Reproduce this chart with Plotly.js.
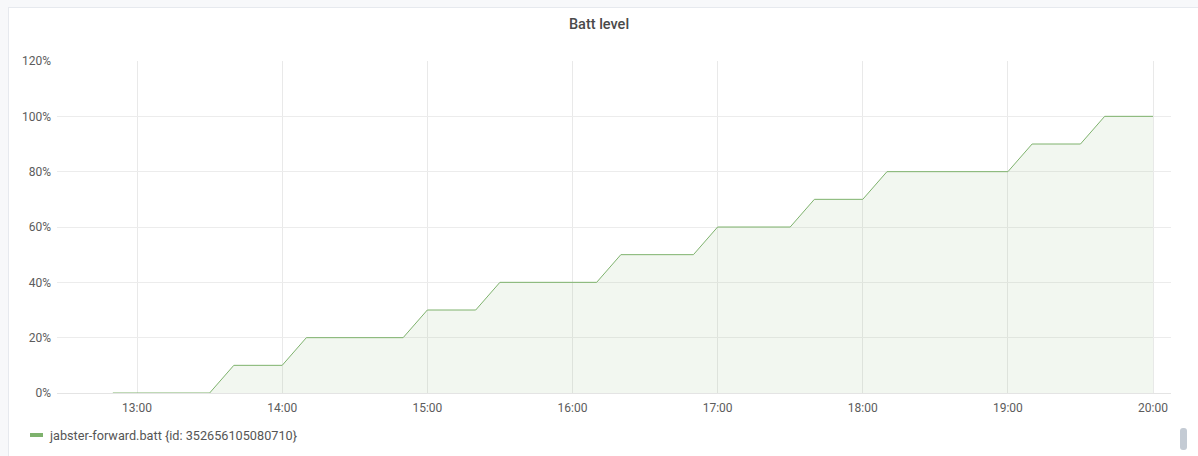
<!DOCTYPE html>
<html>
<head>
<meta charset="utf-8">
<script src="https://cdn.plot.ly/plotly-3.0.1.min.js"></script>
<style>
  html, body { margin: 0; padding: 0; width: 1198px; height: 456px; overflow: hidden; background: #f7f8fa; }
  #panel { position: absolute; left: 8px; top: 7px; width: 1200px; height: 460px; background: #fff; border: 1px solid #e6e9ee; box-sizing: border-box; }
  #chart { position: absolute; left: 0; top: 0; width: 1198px; height: 456px; }
  #scroll { position: absolute; left: 1180px; top: 428px; width: 7px; height: 22px; background: #c4cbd4; border-radius: 3px; }
</style>
</head>
<body>
<div id="panel"></div>
<div id="chart"></div>
<div id="scroll"></div>
<script>
const chartTitle = 'Batt level';
const seriesName = 'jabster-forward.batt {id: 352656105080710}';
const times = [
  '2020-01-01 12:50','2020-01-01 13:00','2020-01-01 13:10','2020-01-01 13:20','2020-01-01 13:30',
  '2020-01-01 13:40','2020-01-01 13:50','2020-01-01 14:00','2020-01-01 14:10','2020-01-01 14:20',
  '2020-01-01 14:30','2020-01-01 14:40','2020-01-01 14:50','2020-01-01 15:00','2020-01-01 15:10',
  '2020-01-01 15:20','2020-01-01 15:30','2020-01-01 15:40','2020-01-01 15:50','2020-01-01 16:00',
  '2020-01-01 16:10','2020-01-01 16:20','2020-01-01 16:30','2020-01-01 16:40','2020-01-01 16:50',
  '2020-01-01 17:00','2020-01-01 17:10','2020-01-01 17:20','2020-01-01 17:30','2020-01-01 17:40',
  '2020-01-01 17:50','2020-01-01 18:00','2020-01-01 18:10','2020-01-01 18:20','2020-01-01 18:30',
  '2020-01-01 18:40','2020-01-01 18:50','2020-01-01 19:00','2020-01-01 19:10','2020-01-01 19:20',
  '2020-01-01 19:30','2020-01-01 19:40','2020-01-01 19:50','2020-01-01 20:00'
];
const battLevel = [
  0, 0, 0, 0, 0,
  10, 10, 10, 20, 20,
  20, 20, 20, 30, 30,
  30, 40, 40, 40, 40,
  40, 50, 50, 50, 50,
  60, 60, 60, 60, 70,
  70, 70, 80, 80, 80,
  80, 80, 80, 90, 90,
  90, 100, 100, 100
];
const xRange = ['2020-01-01 12:26:55', '2020-01-01 20:07:25'];
const yTicks = [0, 20, 40, 60, 80, 100, 120];

const green = '#7eb26d';
// plot area in page pixels: x 57..1171, y 61..393
const PL = 57, PW = 1114, PB = 393, PH = 332;
const px = v => (v - PL) / PW;
const py = v => (PB - v) / PH;

const traces = [
  {
    x: times, y: battLevel, type: 'scatter', mode: 'lines',
    name: seriesName,
    line: { color: green, width: 1 },
    fill: 'tozeroy', fillcolor: 'rgba(126,178,109,0.1)',
    showlegend: false, hoverinfo: 'skip'
  }
];

const layout = {
  width: 1198, height: 456,
  paper_bgcolor: 'rgba(0,0,0,0)', plot_bgcolor: 'rgba(0,0,0,0)',
  margin: { l: 57, r: 27, t: 61, b: 63 },
  font: { family: 'Roboto, "Open Sans", sans-serif', size: 12, color: '#5c5c5c' },
  title: {
    text: chartTitle, x: 0.5, xanchor: 'center', y: 1 - 24 / 456, yanchor: 'middle', yref: 'container',
    font: { family: 'Roboto, sans-serif', size: 14.5, color: '#4a4a4a', weight: 500 }
  },
  xaxis: {
    type: 'date', range: xRange, tickformat: '%H:%M', dtick: 3600000,
    tick0: '2020-01-01 13:00',
    showgrid: true, gridcolor: '#e9e9e9', gridwidth: 1,
    zeroline: false, showline: true, linecolor: '#e4e4e4', linewidth: 1,
    ticks: '', ticklabelstandoff: 4,
    tickfont: { size: 12, color: '#5c5c5c' }, fixedrange: true
  },
  yaxis: {
    range: [0, 120], tickvals: yTicks, ticktext: yTicks.map(v => v + '%'),
    showgrid: true, gridcolor: '#ececec', gridwidth: 1,
    zeroline: false, showline: false,
    ticks: '', ticklabelstandoff: 5,
    tickfont: { size: 12, color: '#5c5c5c' }, fixedrange: true
  },
  showlegend: false,
  shapes: [
    {
      type: 'line', xref: 'paper', yref: 'paper',
      x0: px(30), x1: px(43), y0: py(435), y1: py(435),
      line: { color: green, width: 4 }
    }
  ],
  annotations: [
    {
      text: seriesName, xref: 'paper', yref: 'paper',
      x: px(47), y: py(435), xanchor: 'left', yanchor: 'middle',
      showarrow: false, font: { size: 12.7, color: '#555555' }
    }
  ]
};

Plotly.newPlot('chart', traces, layout, { staticPlot: true, displayModeBar: false });
</script>
</body>
</html>
